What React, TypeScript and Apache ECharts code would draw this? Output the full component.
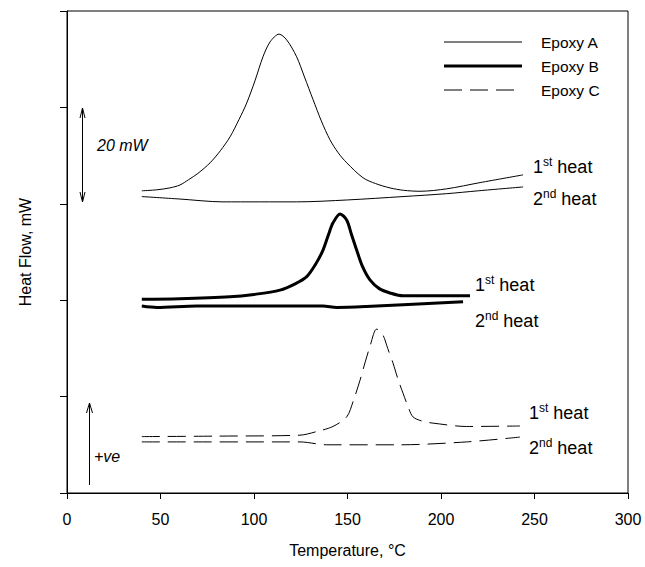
import React, { useEffect, useRef } from "react";
import * as echarts from "echarts";

// Temperature (°C) values
const xTicks = [0, 50, 100, 150, 200, 250, 300];

// Epoxy A
const epoxyA1st: [number, number][] = [
  [40, 62.7], [48, 62.9], [55, 63.3], [60.4, 63.9], [65, 65.0], [70, 66.3], [76.5, 68.5], [82, 71], [87.2, 73.9], [92, 77.5], [96.1, 80.9],
  [100.5, 85.5], [104.8, 90.5], [108.6, 93.6], [113.4, 95.2], [117.5, 94.0], [122.8, 90.5], [127, 86.3],
  [131.6, 81.6], [136, 77.2], [140.6, 73.3], [145, 70.6], [149.6, 68.5], [158.3, 65.4], [165, 64.2],
  [172.7, 63.3], [180, 62.8], [188.8, 62.6], [203, 63.1], [220.9, 64.4], [243.9, 66.0],
];
const epoxyA2nd: [number, number][] = [
  [40, 61.5], [60, 61.0], [83.4, 60.4], [122.8, 60.4], [150, 60.8], [179.7, 61.5], [203, 62.1], [220, 62.7], [243.9, 63.5],
];

// Epoxy B
const epoxyB1st: [number, number][] = [
  [40, 40.2], [60, 40.3], [87.2, 40.7], [100, 41.2], [113.9, 42.1], [122, 43.4], [128.2, 44.9], [133, 47.5],
  [136.9, 50.4], [140, 53.8], [142.2, 56.0], [146, 57.9], [149.6, 56.6], [152, 53.8], [154.9, 50.4],
  [158, 47], [162, 44.2], [167, 42.4], [172.7, 41.5], [179.7, 40.9], [215.5, 40.9],
];
const epoxyB2nd: [number, number][] = [
  [40, 38.8], [48, 38.5], [69.4, 38.8], [136.9, 38.8], [144.2, 38.5], [160, 38.7], [211.8, 39.7],
];

// Epoxy C
const epoxyC1st: [number, number][] = [
  [40, 11.7], [80, 11.8], [124.6, 12.0], [134, 12.8], [142.2, 13.8], [149.6, 15.8], [153, 19], [156.7, 23.4],
  [159.5, 27.2], [162, 30.4], [165.6, 34.0], [168.9, 32.8], [171.5, 30], [174.3, 27.0], [177, 23.6],
  [179.7, 20.7], [182.5, 17.8], [185, 15.8], [190, 14.9], [195.7, 14.5], [213.7, 13.8], [242.2, 13.9],
];
const epoxyC2nd: [number, number][] = [
  [40, 10.6], [124.6, 10.6], [138.9, 10.0], [178.1, 10.0], [213.7, 10.6], [242.2, 11.6],
];

const legendNames = ["Epoxy A", "Epoxy B", "Epoxy C"];

const FONT = "'Liberation Sans', Arial, Helvetica, sans-serif";

function heatLabel(n: string, sup: string, x: number, y: number) {
  return {
    type: "text",
    x,
    y,
    style: {
      text: `{n|${n}}{s|${sup}}{n| heat}`,
      fontFamily: FONT,
      fill: "#000",
      verticalAlign: "middle",
      rich: {
        n: { fontSize: 18, fontFamily: FONT, fill: "#000", lineHeight: 20, verticalAlign: "bottom" },
        s: { fontSize: 12, fontFamily: FONT, fill: "#000", lineHeight: 12, verticalAlign: "top" },
      },
    },
  };
}

export default function App() {
  const ref = useRef<HTMLDivElement>(null);
  useEffect(() => {
    document.body.style.margin = "0";
    if (!ref.current) return;
    const chart = echarts.init(ref.current, null, { renderer: "svg" });
    const lineBase = { type: "line", symbol: "none", smooth: 0.3, silent: true };
    const black = "#000";
    chart.setOption({
      animation: false,
      backgroundColor: "#fff",
      textStyle: { fontFamily: FONT },
      grid: { left: 67, right: 17, top: 11, bottom: 74, show: true, borderColor: black, borderWidth: 1 },
      xAxis: {
        type: "value",
        min: 0,
        max: 300,
        interval: 50,
        name: "Temperature, °C",
        nameLocation: "middle",
        nameGap: 49,
        nameTextStyle: { fontSize: 16, color: black, fontFamily: FONT },
        axisLine: { lineStyle: { color: black, width: 1 } },
        axisTick: { show: true, length: 6, lineStyle: { color: black } },
        axisLabel: { fontSize: 16, color: black, margin: 18, fontFamily: FONT },
        splitLine: { show: false },
        data: xTicks,
      },
      yAxis: {
        type: "value",
        min: 0,
        max: 100,
        interval: 20,
        name: "Heat Flow, mW",
        nameLocation: "middle",
        nameGap: 34,
        nameTextStyle: { fontSize: 16, color: black, fontFamily: FONT },
        axisLine: { show: true, lineStyle: { color: black, width: 1 } },
        axisTick: { show: true, length: 7, lineStyle: { color: black } },
        axisLabel: { show: false },
        splitLine: { show: false },
      },
      series: [
        { ...lineBase, name: "Epoxy A 1st", data: epoxyA1st, lineStyle: { color: black, width: 1 } },
        { ...lineBase, name: "Epoxy A 2nd", data: epoxyA2nd, lineStyle: { color: black, width: 1 } },
        { ...lineBase, name: "Epoxy B 1st", data: epoxyB1st, lineStyle: { color: black, width: 3 } },
        { ...lineBase, name: "Epoxy B 2nd", data: epoxyB2nd, lineStyle: { color: black, width: 3 } },
        { ...lineBase, name: "Epoxy C 1st", data: epoxyC1st, lineStyle: { color: black, width: 1, type: [18, 8] } },
        { ...lineBase, name: "Epoxy C 2nd", data: epoxyC2nd, lineStyle: { color: black, width: 1, type: [18, 8] } },
      ],
      graphic: [
        // legend
        { type: "line", shape: { x1: 444, y1: 42, x2: 522, y2: 42 }, style: { stroke: black, lineWidth: 1 } },
        { type: "line", shape: { x1: 444, y1: 66, x2: 522, y2: 66 }, style: { stroke: black, lineWidth: 3 } },
        { type: "line", shape: { x1: 444, y1: 90, x2: 522, y2: 90 }, style: { stroke: black, lineWidth: 1, lineDash: [18, 8] } },
        ...legendNames.map((t, i) => ({
          type: "text",
          x: 541,
          y: 42 + i * 24,
          style: { text: t, fontSize: 15.5, fontFamily: FONT, fill: black, verticalAlign: "middle" },
        })),
        // heat labels
        heatLabel("1", "st", 533, 166),
        heatLabel("2", "nd", 533, 198),
        heatLabel("1", "st", 475, 284),
        heatLabel("2", "nd", 475, 320),
        heatLabel("1", "st", 529, 412),
        heatLabel("2", "nd", 529, 447),
        // 20 mW arrow
        { type: "line", shape: { x1: 82.5, y1: 108, x2: 82.5, y2: 202 }, style: { stroke: black, lineWidth: 1 } },
        { type: "polyline", shape: { points: [[80, 118], [82.5, 108], [85, 118]] }, style: { stroke: black, fill: "none", lineWidth: 1 } },
        { type: "polyline", shape: { points: [[80, 192], [82.5, 202], [85, 192]] }, style: { stroke: black, fill: "none", lineWidth: 1 } },
        {
          type: "text",
          x: 97,
          y: 145,
          style: { text: "20 mW", fontSize: 16, fontStyle: "italic", fontFamily: FONT, fill: black, verticalAlign: "middle" },
        },
        // +ve arrow
        { type: "line", shape: { x1: 89.5, y1: 403, x2: 89.5, y2: 485 }, style: { stroke: black, lineWidth: 1 } },
        { type: "polyline", shape: { points: [[86.5, 413], [89.5, 403], [92.5, 413]] }, style: { stroke: black, fill: "none", lineWidth: 1 } },
        {
          type: "text",
          x: 94,
          y: 456,
          style: { text: "+ve", fontSize: 16, fontStyle: "italic", fontFamily: FONT, fill: black, verticalAlign: "middle" },
        },
      ],
    });
    return () => chart.dispose();
  }, []);
  return <div ref={ref} style={{ width: 645, height: 567 }} />;
}
